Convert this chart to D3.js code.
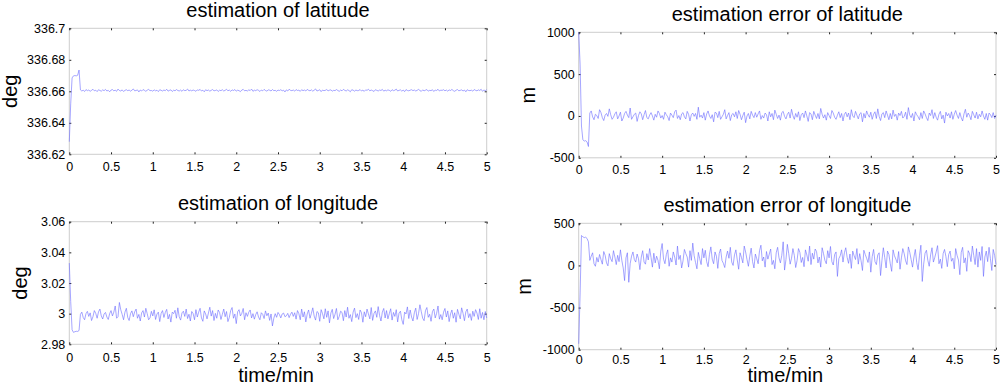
<!DOCTYPE html>
<html><head><meta charset="utf-8">
<script src="https://cdn.jsdelivr.net/npm/d3@7"></script>
<style>
body{margin:0;background:#fff;}
svg{display:block;}
text{font-family:"Liberation Sans",Arial,Helvetica,sans-serif;fill:#000;}
</style>
</head><body>
<svg id="chart" width="1000" height="386"></svg>
<script>
// ---------- data ----------
const timeRange = [0, 5];               // minutes
const xTicks = [0, 0.5, 1, 1.5, 2, 2.5, 3, 3.5, 4, 4.5, 5];
const latTicks = [336.62, 336.64, 336.66, 336.68, 336.7];
const latErrTicks = [-500, 0, 500, 1000];
const lonTicks = [2.98, 3, 3.02, 3.04, 3.06];
const lonErrTicks = [-1000, -500, 0, 500];

const latEstimate = [
336.628,336.652,336.6685,336.6698,336.6700,336.6698,336.6702,336.6735,
336.6609,336.6602,336.6607,336.6599,336.6611,336.6604,336.6608,336.6600,336.6606,336.6613,336.6603,336.6607,336.6598,336.6610,336.6605,336.6601,336.6609,336.6604,336.6612,336.6602,
336.6606,336.6597,336.6608,336.6611,336.6603,336.6607,336.6600,336.6614,336.6605,336.6602,336.6609,336.6599,336.6606,336.6610,336.6604,336.6608,336.6601,336.6607,336.6615,336.6603,
336.6605,336.6609,336.6596,336.6608,336.6602,336.6611,336.6606,336.6600,336.6607,336.6612,336.6604,336.6605,336.6601,336.6609,336.6603,336.6607,336.6598,336.6610,336.6606,336.6602,
336.6608,336.6604,336.6613,336.6601,336.6606,336.6609,336.6599,336.6607,336.6603,336.6611,336.6605,336.6602,336.6608,336.6600,336.6610,336.6604,336.6606,336.6614,336.6602,336.6607,
336.6603,336.6608,336.6605,336.6600,336.6609,336.6606,336.6612,336.6602,336.6607,336.6597,336.6610,336.6604,336.6608,336.6601,336.6606,336.6611,336.6603,336.6605,336.6609,336.6599,
336.6607,336.6604,336.6610,336.6602,336.6606,336.6613,336.6603,336.6608,336.6600,336.6609,336.6605,336.6611,336.6601,336.6607,336.6604,336.6598,336.6608,336.6612,336.6603,336.6606,
336.6602,336.6609,336.6605,336.6614,336.6600,336.6607,336.6604,336.6610,336.6606,336.6599,336.6608,336.6603,336.6612,336.6605,336.6601,336.6609,336.6607,336.6602,336.6611,336.6604,
336.6606,336.6600,336.6608,336.6605,336.6610,336.6603,336.6607,336.6596,336.6609,336.6602,336.6613,336.6606,336.6604,336.6608,336.6601,336.6611,336.6605,336.6607,336.6600,336.6610,
336.6604,336.6608,336.6602,336.6612,336.6606,336.6603,336.6609,336.6601,336.6607,336.6615,336.6602,336.6605,336.6610,336.6598,336.6608,336.6604,336.6606,336.6611,336.6603,336.6607,
336.6609,336.6601,336.6606,336.6604,336.6611,336.6605,336.6600,336.6608,336.6603,336.6612,336.6606,336.6602,336.6609,336.6605,336.6597,336.6610,336.6607,336.6601,336.6608,336.6604,
336.6605,336.6611,336.6602,336.6607,336.6600,336.6609,336.6606,336.6613,336.6603,336.6608,336.6604,336.6599,336.6610,336.6606,336.6602,336.6608,336.6605,336.6612,336.6601,336.6607,
336.6603,336.6609,336.6606,336.6600,336.6610,336.6604,336.6607,336.6614,336.6602,336.6606,336.6609,336.6601,336.6608,336.6598,336.6611,336.6605,336.6603,336.6607,336.6610,336.6604,
336.6608,336.6602,336.6606,336.6612,336.6605,336.6600,336.6609,336.6603,336.6607,336.6611,336.6601,336.6606,336.6604,336.6610,336.6599,336.6608,336.6605,336.6613,336.6602,336.6607,
336.6606,336.6610,336.6603,336.6608,336.6601,336.6609,336.6605,336.6612,336.6604,336.6600,336.6607,336.6611,336.6603,336.6606,336.6609,336.6602,336.6608,336.6597,336.6610,336.6605,
336.6604,336.6607,336.6601,336.6611,336.6606,336.6603,336.6609,336.6605,336.6613,336.6600,336.6608,336.6604,336.6610
];

const latError = [
1000,620,-120,-285,-300,-295,-310,-365,
35,60,-10,-45,20,5,-30,75,40,-20,-55,10,30,-5,85,15,-40,-15,25,50,
-35,0,45,-60,-25,30,55,10,-20,95,-40,-10,20,35,-65,5,50,25,-45,15,
65,-20,-35,10,40,0,-50,20,-15,60,30,-25,5,-40,45,15,-10,-55,35,10,
-20,50,70,-30,5,-45,25,40,-10,-35,55,20,-60,15,35,-5,30,-40,105,-15,
10,-25,40,-50,25,60,0,-30,15,-70,45,35,-20,55,-40,-10,20,75,-35,5,
40,-55,15,30,-10,50,-30,65,20,-45,5,45,-80,0,30,-35,55,10,-20,40,
-15,25,60,-40,5,-25,35,15,-60,50,-10,30,-45,70,20,-30,10,-50,40,55,
-5,-35,20,45,-25,80,5,-40,30,-15,50,-55,15,35,-20,60,0,-65,40,25,
-45,55,10,-30,30,-35,90,20,-25,15,-50,40,5,-30,65,35,-15,-40,10,50,
-20,30,-60,20,45,-10,35,-45,75,0,-20,55,10,-35,25,40,-70,30,-25,60,
15,-15,45,-40,20,50,-30,85,-5,-55,25,40,-20,60,10,-45,30,-35,70,-5,
20,-50,35,5,55,-25,-5,45,-40,100,10,-20,30,-60,50,15,-10,-45,40,-30,
60,25,-20,-55,35,5,75,-30,40,-15,-50,20,55,-35,10,-85,45,0,30,-25,
50,-40,20,65,10,-30,40,-20,-60,25,80,-15,35,5,-45,55,15,-25,45,-35,
20,-10,60,0,-40,30,-50,35,15,-20,40,-30,10
];

const lonEstimate = [
3.0330,3.0080,2.9895,2.9878,2.9882,2.9885,2.9884,2.9890,
2.9995,3.0010,2.9975,2.9960,3.0000,3.0015,2.9982,3.0005,2.9955,2.9980,3.0020,3.0002,2.9970,3.0012,3.0030,2.9985,2.9965,2.9998,3.0008,2.9978,
2.9962,3.0000,3.0020,2.9985,3.0010,3.0050,2.9970,2.9980,3.0073,3.0025,2.9995,2.9960,3.0010,3.0035,2.9975,2.9955,3.0000,3.0018,2.9980,3.0012,
3.0030,2.9970,2.9995,2.9952,3.0005,3.0020,2.9978,3.0035,3.0000,2.9960,2.9972,3.0015,2.9985,3.0025,2.9962,2.9998,3.0010,2.9948,3.0002,3.0020,
2.9975,3.0008,3.0028,2.9965,2.9995,2.9945,3.0010,3.0000,3.0022,2.9970,3.0038,2.9980,2.9958,3.0005,3.0016,2.9982,3.0030,2.9968,2.9996,2.9952,
3.0014,3.0000,2.9960,3.0026,2.9978,3.0010,3.0035,2.9972,2.9950,3.0018,2.9998,2.9966,3.0004,3.0042,2.9984,3.0020,2.9955,3.0002,2.9970,3.0024,
3.0008,2.9962,2.9996,3.0030,2.9980,3.0014,2.9948,2.9975,3.0020,3.0040,2.9970,2.9998,2.9935,3.0012,3.0026,2.9985,3.0002,3.0034,2.9960,3.0006,
2.9982,3.0010,3.0024,2.9972,3.0000,2.9964,2.9994,3.0012,2.9978,2.9960,3.0006,2.9996,2.9968,3.0018,2.9986,3.0004,2.9956,2.9998,2.9920,2.9970,
3.0000,2.9976,3.0008,2.9994,2.9972,2.9998,3.0004,2.9980,2.9986,3.0002,2.9974,2.9996,3.0010,2.9982,3.0006,2.9964,3.0020,3.0000,2.9960,3.0030,
2.9978,3.0012,2.9946,2.9998,3.0024,2.9970,3.0002,3.0038,2.9984,2.9958,3.0014,3.0006,2.9950,3.0026,3.0000,2.9966,3.0032,2.9976,3.0018,2.9940,
3.0004,3.0028,2.9968,2.9996,3.0034,2.9960,2.9982,3.0016,3.0008,2.9954,3.0020,2.9978,3.0042,2.9970,2.9994,2.9948,3.0010,3.0036,2.9974,3.0000,
2.9962,3.0024,3.0006,2.9944,3.0012,2.9980,3.0030,2.9998,2.9966,3.0040,2.9956,3.0002,3.0018,2.9976,3.0046,2.9988,2.9952,3.0010,3.0034,2.9972,
3.0020,2.9966,3.0000,3.0032,2.9958,3.0008,2.9982,3.0026,2.9946,3.0004,3.0016,2.9960,2.9930,3.0010,2.9998,3.0044,2.9968,3.0024,2.9978,2.9952,
3.0006,3.0036,2.9962,3.0000,3.0058,3.0012,2.9970,2.9954,3.0020,3.0040,2.9976,2.9996,2.9950,3.0014,3.0030,2.9972,3.0002,3.0050,2.9964,2.9994,
2.9960,3.0010,3.0034,2.9978,3.0018,2.9948,2.9998,3.0024,2.9970,3.0006,2.9944,3.0028,2.9996,2.9966,3.0038,3.0002,2.9954,3.0012,3.0030,2.9974,
3.0000,2.9956,3.0016,2.9982,3.0026,3.0004,2.9962,3.0032,2.9970,3.0008,2.9960,3.0014,2.9972
];

const lonError = [
-930,-350,355,340,330,335,320,280,
60,110,150,20,-10,95,40,130,70,15,165,120,30,-5,140,80,45,175,100,10,
120,45,185,60,-30,-180,90,150,-200,20,110,160,70,40,135,80,-50,100,175,40,
15,140,65,200,95,-20,145,30,110,60,-40,170,260,75,20,130,185,-10,90,40,
160,100,5,230,70,120,-30,55,190,140,100,-20,175,60,265,115,35,-40,155,80,
10,200,90,180,45,-15,130,220,75,20,160,110,-35,140,195,60,25,-25,100,170,
85,215,40,0,125,185,65,-45,150,95,30,230,160,70,-10,110,205,45,-30,135,
80,20,175,240,55,100,-20,165,75,135,195,10,60,-40,150,215,90,30,120,280,
-55,70,250,140,15,85,200,120,-25,60,200,155,35,95,-15,185,125,50,230,10,
145,75,195,165,30,100,-20,210,140,60,20,175,90,225,45,5,130,160,-130,80,
115,185,40,150,210,95,25,135,-35,170,115,70,200,15,140,55,-60,180,130,85,
35,160,-80,105,190,45,10,125,150,-120,60,210,95,-30,170,130,20,-70,185,115,
75,30,165,-45,90,200,140,55,10,220,155,70,-20,100,190,35,-50,120,240,-190,
15,145,180,60,-10,125,210,40,95,160,235,20,75,-35,140,190,105,-15,130,170,
50,85,-40,200,120,65,-110,155,215,30,90,-70,175,140,45,230,120,10,200,-20,
160,60,225,-130,100,170,45,215,80,-60,190,120,10
];

// ---------- layout ----------
const panels = [
  {title:"estimation of latitude", yLabel:"deg", values:latEstimate, yDomain:[336.62,336.7], yTicks:latTicks,
   box:{l:69.3, r:486.7, t:28.3, b:154.3}, yLabelX:17, xPad:7.5, xLabel:null},
  {title:"estimation error of latitude", yLabel:"m", values:latError, yDomain:[-500,1000], yTicks:latErrTicks,
   box:{l:578.7, r:996, t:32.3, b:157.8}, yLabelX:534.5, xPad:7, xLabel:null},
  {title:"estimation of longitude", yLabel:"deg", values:lonEstimate, yDomain:[2.98,3.06], yTicks:lonTicks,
   box:{l:69.3, r:486.7, t:221.7, b:344.3}, yLabelX:26.5, xPad:9, xLabel:"time/min"},
  {title:"estimation error of longitude", yLabel:"m", values:lonError, yDomain:[-1000,500], yTicks:lonErrTicks,
   box:{l:578.7, r:996, t:223.3, b:349.7}, yLabelX:530.5, xPad:5.5, xLabel:"time/min"}
];

const svg = d3.select("#chart");
const fmt = d => String(+d.toFixed(4));

panels.forEach(p => {
  const b = p.box;
  const x = d3.scaleLinear().domain(timeRange).range([b.l, b.r]);
  const y = d3.scaleLinear().domain(p.yDomain).range([b.b, b.t]);
  const n = p.values.length;
  const tOf = i => timeRange[0] + i * (timeRange[1] - timeRange[0]) / (n - 1);
  const g = svg.append("g");

  // box
  g.append("rect").attr("x", b.l).attr("y", b.t).attr("width", b.r - b.l).attr("height", b.b - b.t)
    .attr("fill", "#fff").attr("stroke", "#cdcdcd").attr("stroke-width", 1);

  // axes (ticks inward)
  const style = sel => {
    sel.select(".domain").remove();
    sel.selectAll(".tick line").attr("stroke", "#222").attr("stroke-width", 1);
    sel.selectAll("text").attr("font-size", "12.5px").attr("fill", "#000")
      .style("font-family", '"Liberation Sans", Arial, sans-serif');
  };
  g.append("g").attr("transform", `translate(0,${b.b})`)
    .call(d3.axisBottom(x).tickValues(xTicks).tickFormat(fmt).tickSize(-2).tickPadding(p.xPad)).call(style);
  g.append("g").attr("transform", `translate(0,${b.t})`)
    .call(d3.axisTop(x).tickValues(xTicks).tickFormat("").tickSize(-2)).call(style);
  g.append("g").attr("transform", `translate(${b.l},0)`)
    .call(d3.axisLeft(y).tickValues(p.yTicks).tickFormat(fmt).tickSize(-2).tickPadding(4)).call(style);
  g.append("g").attr("transform", `translate(${b.r},0)`)
    .call(d3.axisRight(y).tickValues(p.yTicks).tickFormat("").tickSize(-2)).call(style);

  // series
  const line = d3.line().x((d, i) => x(tOf(i))).y(d => y(d));
  g.append("path").datum(p.values).attr("d", line)
    .attr("fill", "none").attr("stroke", "#6a6aff").attr("stroke-width", 0.6);

  // title
  g.append("text").attr("x", (b.l + b.r) / 2).attr("y", b.t - 11.5)
    .attr("text-anchor", "middle").attr("font-size", "20px").text(p.title);
  // y label
  g.append("text").attr("transform", `translate(${p.yLabelX},${(b.t + b.b) / 2}) rotate(-90)`)
    .attr("text-anchor", "middle").attr("font-size", "20px").text(p.yLabel);
  // x label
  if (p.xLabel) {
    g.append("text").attr("x", (b.l + b.r) / 2 - 2).attr("y", 381.5)
      .attr("text-anchor", "middle").attr("font-size", "20px").text(p.xLabel);
  }
});
</script>
</body></html>
